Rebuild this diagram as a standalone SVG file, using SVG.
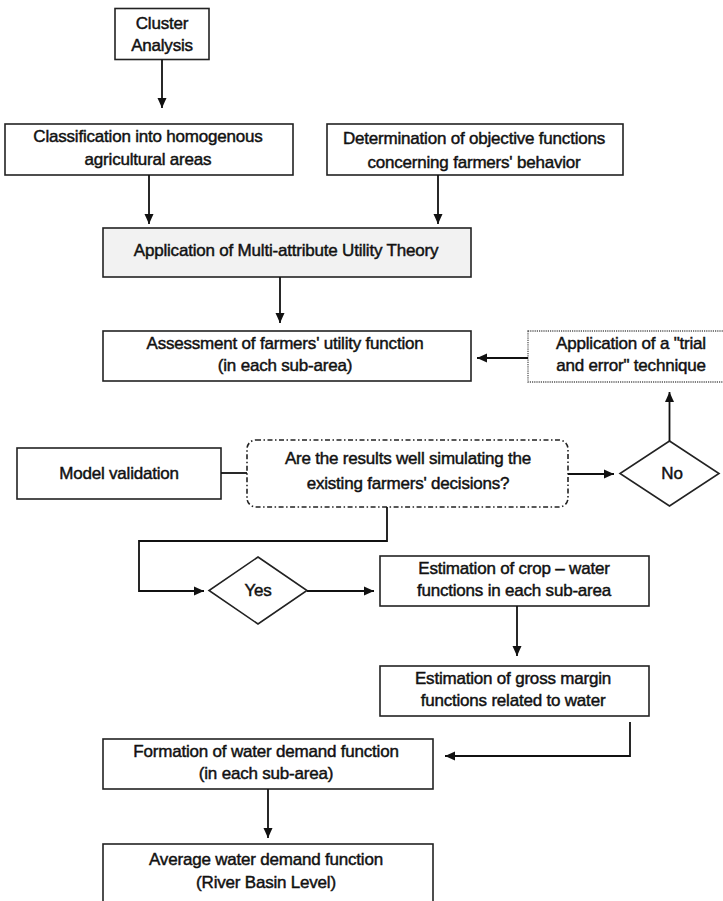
<svg xmlns="http://www.w3.org/2000/svg" width="723" height="901" viewBox="0 0 723 901">
<style>
.box{fill:#fff;stroke:#222;stroke-width:1.6}
.gray{fill:#f2f2f2}
.dot{fill:#fff;stroke:#555;stroke-width:1.3;stroke-dasharray:1.2 1}
.dd{fill:#fff;stroke:#222;stroke-width:1.6;stroke-dasharray:5 2.5 1.5 2.5}
.dia{fill:#fff;stroke:#222;stroke-width:1.6}
.t{font-family:"Liberation Sans",Arial,sans-serif;font-size:17px;fill:#111;text-anchor:middle;stroke:#111;stroke-width:0.45;letter-spacing:-0.2px}
.c{fill:none;stroke:#111;stroke-width:1.8}
</style>
<defs>
<marker id="ah" markerWidth="11" markerHeight="11" refX="10" refY="5" orient="auto" markerUnits="userSpaceOnUse">
<path d="M0,0.5 L10,5 L0,9.5 Z" fill="#111"/>
</marker>
</defs>
<rect width="723" height="901" fill="#fff"/>
<g id="cluster"><rect class="box" x="115" y="8.5" width="94" height="51"/><text class="t" x="162" y="28.5">Cluster</text><text class="t" x="162" y="51">Analysis</text></g>
<g id="classification"><rect class="box" x="5" y="124" width="288" height="51"/><text class="t" x="148" y="141.5">Classification into homogenous</text><text class="t" x="148" y="165">agricultural areas</text></g>
<g id="determination"><rect class="box" x="327" y="124" width="296" height="51"/><text class="t" x="474" y="144">Determination of objective functions</text><text class="t" x="474" y="168">concerning farmers' behavior</text></g>
<g id="maut"><rect class="box gray" x="103" y="228" width="368" height="49"/><text class="t" x="286" y="256">Application of Multi-attribute Utility Theory</text></g>
<g id="assessment"><rect class="box" x="103" y="331" width="368" height="50"/><text class="t" x="285" y="348.5">Assessment of farmers' utility function</text><text class="t" x="285" y="371">(in each sub-area)</text></g>
<g id="trial"><rect class="dot" x="528" y="331" width="196" height="51"/><text class="t" x="631" y="348.5">Application of a "trial</text><text class="t" x="631" y="370.5">and error" technique</text></g>
<g id="model-validation"><rect class="box" x="17" y="448" width="204" height="51"/><text class="t" x="119" y="479">Model validation</text></g>
<g id="question"><rect class="dd" x="247" y="440" width="321" height="67" rx="9"/><text class="t" x="408" y="464">Are the results well simulating the</text><text class="t" x="408" y="489">existing farmers' decisions?</text></g>
<g id="no"><polygon class="dia" points="669.5,441 719,473.5 669.5,506 620,473.5"/><text class="t" x="672" y="479">No</text></g>
<g id="yes"><polygon class="dia" points="258,557 307,590.5 258,624 209,590.5"/><text class="t" x="258" y="596">Yes</text></g>
<g id="crop-water"><rect class="box" x="380" y="556" width="269" height="50"/><text class="t" x="514" y="574">Estimation of crop – water</text><text class="t" x="514" y="596">functions in each sub-area</text></g>
<g id="gross-margin"><rect class="box" x="380" y="666" width="269" height="50"/><text class="t" x="513" y="684">Estimation of gross margin</text><text class="t" x="513" y="705.5">functions related to water</text></g>
<g id="formation"><rect class="box" x="103" y="739" width="330" height="50"/><text class="t" x="266" y="757">Formation of water demand function</text><text class="t" x="266" y="779">(in each sub-area)</text></g>
<g id="average"><rect class="box" x="103" y="844" width="330" height="70"/><text class="t" x="266" y="864.5">Average water demand function</text><text class="t" x="266" y="888">(River Basin Level)</text></g>
<g id="connectors">
<path class="c" d="M162,59.5 V108" marker-end="url(#ah)"/>
<path class="c" d="M149,175 V224" marker-end="url(#ah)"/>
<path class="c" d="M438,175 V224" marker-end="url(#ah)"/>
<path class="c" d="M280,277 V323" marker-end="url(#ah)"/>
<path class="c" d="M528,358 H477" marker-end="url(#ah)"/>
<path class="c" d="M669.5,441 V392" marker-end="url(#ah)"/>
<path class="c" d="M221,473 H247"/>
<path class="c" d="M568,474 H614" marker-end="url(#ah)"/>
<path class="c" d="M387,507 V541 H139 V591 H204" marker-end="url(#ah)"/>
<path class="c" d="M307,591 H374" marker-end="url(#ah)"/>
<path class="c" d="M517,606 V656" marker-end="url(#ah)"/>
<path class="c" d="M630,722 V756 H445" marker-end="url(#ah)"/>
<path class="c" d="M268,789 V838" marker-end="url(#ah)"/>
</g>
</svg>
